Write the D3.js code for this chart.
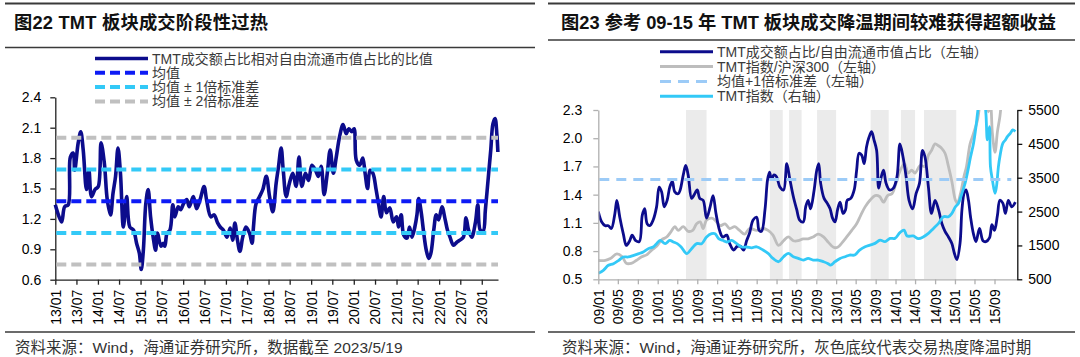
<!DOCTYPE html>
<html><head><meta charset="utf-8">
<script src="https://cdn.jsdelivr.net/npm/d3@7/dist/d3.min.js"></script>
<style>
body{margin:0;background:#fff}
svg text{font-family:"Liberation Sans","Noto Sans CJK SC",sans-serif}
</style>
</head><body>
<svg id="c" width="1080" height="357"></svg>
<script>
// ---------------- LEFT CHART DATA ----------------
const leftTitle = "图22 TMT 板块成交阶段性过热";
const leftSource = "资料来源：Wind，海通证券研究所，数据截至 2023/5/19";
const leftLegend = ["TMT成交额占比相对自由流通市值占比的比值", "均值", "均值 ± 1倍标准差", "均值 ± 2倍标准差"];
const leftTickLabels = ["13/01","13/07","14/01","14/07","15/01","15/07","16/01","16/07","17/01","17/07","18/01","18/07","19/01","19/07","20/01","20/07","21/01","21/07","22/01","22/07","23/01"];
const leftYTicks = [0.6, 0.9, 1.2, 1.5, 1.8, 2.1, 2.4];
const leftMean = 1.375;
const leftSd = 0.313;
const leftDates = [
"2013-01-01","2013-02-24","2013-03-22","2013-04-22","2013-05-10","2013-06-04","2013-06-16","2013-07-16","2013-08-07","2013-08-28",
"2013-09-25","2013-10-16","2013-11-07","2013-12-07","2014-01-04","2014-01-28","2014-02-25","2014-03-22","2014-04-19","2014-05-10",
"2014-06-01","2014-06-22","2014-07-13","2014-08-07","2014-09-04","2014-10-01","2014-11-01","2014-11-28","2014-12-22","2015-01-07",
"2015-01-25","2015-02-15","2015-03-07","2015-03-28","2015-04-19","2015-05-10","2015-05-25","2015-06-25","2015-07-13","2015-07-28",
"2015-08-16","2015-09-10","2015-10-04","2015-10-22","2015-11-19","2015-12-10","2016-01-04","2016-02-01","2016-02-22","2016-03-28",
"2016-04-25","2016-05-25","2016-06-28","2016-07-19","2016-08-25","2016-09-22","2016-10-22","2016-11-13","2016-12-10","2017-01-10",
"2017-02-07","2017-02-28","2017-03-19","2017-04-10","2017-05-01","2017-05-25","2017-06-22","2017-07-22","2017-08-13","2017-08-25",
"2017-09-16","2017-10-16","2017-11-13","2017-12-13","2018-01-10","2018-02-07","2018-03-07","2018-03-28","2018-04-19","2018-05-07",
"2018-06-01","2018-06-28","2018-07-28","2018-08-25","2018-09-19","2018-10-13","2018-11-13","2018-12-10","2019-01-07","2019-02-07",
"2019-03-04","2019-03-28","2019-04-22","2019-05-19","2019-06-13","2019-07-10","2019-08-04","2019-09-01","2019-10-01","2019-10-28",
"2019-11-19","2019-12-16","2020-01-04","2020-01-22","2020-02-19","2020-03-10","2020-03-19","2020-04-07","2020-04-28","2020-05-19",
"2020-06-13","2020-07-10","2020-08-01","2020-08-22","2020-09-13","2020-10-07","2020-11-04","2020-12-04","2021-01-01","2021-01-19",
"2021-02-10","2021-03-04","2021-04-01","2021-04-22","2021-05-13","2021-06-07","2021-06-25","2021-07-10","2021-08-01","2021-08-22",
"2021-09-13","2021-10-04","2021-10-22","2021-11-16","2021-12-07","2021-12-28","2022-01-25","2022-02-22","2022-03-13","2022-04-04",
"2022-05-04","2022-06-01","2022-06-28","2022-07-28","2022-08-19","2022-09-10","2022-10-07","2022-11-07","2022-11-28","2022-12-19",
"2023-01-13","2023-02-01","2023-03-01","2023-03-19","2023-04-07","2023-04-25","2023-05-10","2023-05-19"];
const leftRatio = [
1.34,1.17,1.32,1.34,1.81,1.85,1.68,1.95,2.06,1.88,
1.49,1.68,1.42,1.49,1.52,1.95,1.75,1.39,1.24,1.45,
1.62,1.90,1.65,1.12,1.42,1.12,1.09,0.96,0.86,0.70,
0.89,1.35,1.49,1.22,1.02,0.89,1.06,0.93,0.96,0.93,
1.06,1.09,1.34,1.22,1.32,1.29,1.35,1.39,1.32,1.42,
1.30,1.39,1.52,1.39,1.22,1.24,1.16,1.12,1.09,1.02,
1.11,0.99,1.16,0.99,0.88,1.02,1.12,1.06,0.96,1.12,
1.35,1.42,1.49,1.62,1.42,1.27,1.55,1.72,1.90,1.68,
1.42,1.55,1.65,1.52,1.81,1.52,1.65,1.58,1.73,1.68,
1.62,1.72,1.44,1.65,1.88,1.65,1.81,2.01,2.13,2.04,
2.09,2.06,2.09,1.78,1.73,1.78,1.80,1.65,1.50,1.68,
1.65,1.49,1.34,1.22,1.42,1.26,1.31,1.17,1.22,1.12,
1.24,1.04,1.01,1.12,1.02,1.12,1.24,1.40,1.26,1.06,
0.89,0.81,0.86,1.09,1.24,1.19,1.32,1.19,1.09,1.02,
0.94,0.97,0.99,1.02,1.21,1.09,1.02,1.16,1.34,1.09,
1.08,1.29,1.65,1.88,2.14,2.19,2.04,1.86];

// ---------------- RIGHT CHART DATA ----------------
const rightTitle = "图23 参考 09-15 年 TMT 板块成交降温期间较难获得超额收益";
const rightSource = "资料来源：Wind，海通证券研究所，灰色底纹代表交易热度降温时期";
const rightLegend = ["TMT成交额占比/自由流通市值占比（左轴）", "TMT指数/沪深300（左轴）", "均值+1倍标准差（左轴）", "TMT指数（右轴）"];
const rightTickLabels = ["09/01","09/05","09/09","10/01","10/05","10/09","11/01","11/05","11/09","12/01","12/05","12/09","13/01","13/05","13/09","14/01","14/05","14/09","15/01","15/05","15/09"];
const rightYTicksLeft = [0.5, 0.8, 1.1, 1.4, 1.7, 2.0, 2.3];
const rightYTicksRight = [500, 1500, 2500, 3500, 4500, 5500];
const rightThreshold = 1.56;
const bandStarts = ["2010-06-24","2011-11-21","2012-03-18","2012-09-06","2013-08-01","2014-02-03","2014-06-25"];
const bandEnds   = ["2010-10-28","2012-02-08","2012-06-03","2013-01-01","2013-11-20","2014-05-01","2015-01-09"];
const navyDates = [
"2009-01-01","2009-01-22","2009-02-13","2009-03-04","2009-03-22","2009-04-13","2009-04-25","2009-05-13","2009-06-04","2009-06-22",
"2009-07-13","2009-07-28","2009-08-19","2009-09-10","2009-09-28","2009-10-13","2009-10-28","2009-11-13","2009-12-04","2009-12-25",
"2010-01-10","2010-01-25","2010-02-10","2010-02-28","2010-03-16","2010-04-01","2010-04-16","2010-05-07","2010-05-19","2010-06-07",
"2010-06-22","2010-07-07","2010-07-28","2010-08-10","2010-09-01","2010-09-16","2010-10-07","2010-10-28","2010-11-19","2010-12-07",
"2010-12-25","2011-01-16","2011-02-04","2011-03-01","2011-03-19","2011-04-13","2011-05-04","2011-05-25","2011-06-13","2011-07-01",
"2011-07-19","2011-08-10","2011-09-01","2011-09-16","2011-10-01","2011-10-22","2011-11-07","2011-11-19","2011-12-01","2011-12-16",
"2012-01-01","2012-01-22","2012-02-13","2012-03-04","2012-03-22","2012-04-13","2012-05-04","2012-05-22","2012-06-13","2012-06-28",
"2012-07-13","2012-07-28","2012-08-19","2012-09-04","2012-09-16","2012-09-28","2012-10-19","2012-11-07","2012-11-25","2012-12-10",
"2012-12-25","2013-01-10","2013-01-25","2013-02-13","2013-02-28","2013-03-10","2013-04-01","2013-04-22","2013-05-07","2013-05-22",
"2013-06-07","2013-06-22","2013-07-07","2013-07-22","2013-08-07","2013-08-22","2013-09-07","2013-09-19","2013-10-01","2013-10-19",
"2013-11-04","2013-11-25","2013-12-19","2014-01-10","2014-01-28","2014-02-16","2014-03-07","2014-03-25","2014-04-16","2014-05-07",
"2014-05-28","2014-06-16","2014-07-01","2014-07-22","2014-08-10","2014-09-01","2014-09-22","2014-10-13","2014-11-01","2014-11-22",
"2014-12-13","2014-12-28","2015-01-13","2015-02-01","2015-02-13","2015-02-28","2015-03-10","2015-03-25","2015-04-07","2015-04-25",
"2015-05-10","2015-06-01","2015-06-22","2015-07-10","2015-08-01","2015-08-16","2015-09-01","2015-09-19","2015-10-04","2015-10-22",
"2015-11-07","2015-11-25","2015-12-16","2016-01-07"];
const navyRatio = [
1.22,1.11,1.07,1.07,1.04,1.20,1.34,1.16,0.98,0.86,
0.91,0.97,0.91,0.90,1.18,1.25,1.09,1.07,1.13,1.27,
1.48,1.43,1.27,1.34,1.48,1.54,1.43,1.41,1.45,1.61,
1.71,1.61,1.36,1.39,1.45,1.36,1.34,1.15,1.27,1.39,
1.20,1.02,0.95,0.97,0.88,0.81,0.85,0.85,0.81,0.91,
0.99,1.13,1.16,1.02,1.01,1.24,1.56,1.64,1.56,1.61,
1.59,1.48,1.45,1.73,1.57,1.38,1.24,1.13,1.11,1.27,
1.34,1.25,1.45,1.66,1.73,1.52,1.36,1.31,1.25,1.15,
1.11,1.24,1.32,1.20,1.24,1.34,1.36,1.45,1.66,1.84,
1.82,1.73,1.91,2.01,2.07,1.98,1.87,1.47,1.56,1.66,
1.52,1.45,1.47,1.59,1.94,1.80,1.59,1.34,1.25,1.41,
1.52,1.87,1.80,1.48,1.20,1.34,1.24,1.09,1.01,0.95,
0.88,0.78,0.71,0.88,1.24,1.43,1.45,1.34,1.16,0.98,
0.90,1.04,0.91,0.90,0.94,1.08,1.02,1.18,1.34,1.31,
1.20,1.34,1.27,1.32];
const grayDates = [
"2009-01-01","2009-02-13","2009-03-16","2009-04-25","2009-05-28","2009-06-22","2009-07-22","2009-08-22","2009-09-25","2009-10-25",
"2009-11-25","2009-12-25","2010-01-25","2010-02-25","2010-03-25","2010-04-16","2010-05-07","2010-06-07","2010-07-07","2010-08-04",
"2010-08-28","2010-09-19","2010-10-07","2010-10-28","2010-11-28","2010-12-19","2011-01-19","2011-02-19","2011-03-19","2011-04-19",
"2011-05-19","2011-06-19","2011-07-19","2011-09-01","2011-10-10","2011-11-10","2011-12-10","2012-01-13","2012-02-13","2012-03-13",
"2012-04-13","2012-05-13","2012-06-13","2012-07-13","2012-08-13","2012-09-13","2012-10-16","2012-11-16","2012-12-16","2013-01-10",
"2013-02-07","2013-03-07","2013-04-07","2013-05-07","2013-06-01","2013-06-28","2013-07-28","2013-08-28","2013-09-25","2013-10-19",
"2013-11-13","2013-12-10","2014-01-04","2014-01-28","2014-02-25","2014-03-19","2014-04-10","2014-05-01","2014-06-01","2014-07-01",
"2014-07-22","2014-08-10","2014-09-01","2014-09-22","2014-10-13","2014-11-01","2014-11-22","2014-12-13","2015-01-04","2015-01-16",
"2015-02-04","2015-02-25","2015-03-13","2015-04-04","2015-04-25","2015-05-19","2015-06-13","2015-07-10","2015-07-25","2015-08-07",
"2015-08-19","2015-09-04","2015-09-19","2015-10-04","2015-10-16","2015-11-07","2015-12-01","2016-01-07"];
const grayRatio = [
0.70,0.70,0.72,0.77,0.74,0.67,0.67,0.70,0.74,0.76,
0.81,0.85,0.92,0.95,1.01,1.06,1.02,1.06,1.01,1.02,
1.09,1.11,1.04,1.13,1.15,1.13,1.07,1.09,1.04,1.06,
1.02,0.98,1.04,1.02,1.04,1.02,0.97,0.86,0.91,0.95,
0.91,0.91,0.93,0.93,0.95,0.98,0.95,0.89,0.84,0.84,
0.89,0.95,1.02,1.09,1.18,1.27,1.34,1.39,1.38,1.32,
1.39,1.41,1.52,1.65,1.73,1.63,1.66,1.63,1.71,1.70,
1.82,1.87,1.94,1.92,1.89,1.84,1.70,1.54,1.34,1.31,
1.41,1.59,1.70,1.94,2.05,2.19,2.45,2.55,2.28,2.35,
2.05,1.85,2.07,2.23,2.40,2.55,2.65,2.70];
const cyanDates = [
"2009-01-01","2009-02-01","2009-03-04","2009-04-04","2009-05-07","2009-06-04","2009-07-04","2009-08-07","2009-09-07","2009-10-04",
"2009-11-04","2009-12-04","2009-12-25","2010-01-16","2010-02-16","2010-03-16","2010-04-07","2010-05-01","2010-05-25","2010-06-28",
"2010-07-28","2010-08-28","2010-09-28","2010-10-28","2010-11-28","2010-12-19","2011-01-10","2011-02-04","2011-03-01","2011-04-01",
"2011-05-01","2011-06-01","2011-07-01","2011-08-01","2011-09-01","2011-10-10","2011-11-10","2011-12-10","2012-01-13","2012-02-13",
"2012-03-13","2012-04-13","2012-05-13","2012-06-13","2012-07-13","2012-08-13","2012-09-13","2012-10-16","2012-11-10","2012-11-28",
"2012-12-25","2013-01-25","2013-02-25","2013-03-25","2013-04-25","2013-05-25","2013-06-28","2013-07-28","2013-08-28","2013-09-28",
"2013-10-28","2013-11-28","2013-12-28","2014-01-28","2014-02-22","2014-03-13","2014-04-19","2014-05-22","2014-06-22","2014-07-22",
"2014-08-22","2014-09-22","2014-10-22","2014-11-22","2014-12-13","2015-01-04","2015-01-22","2015-02-13","2015-03-04","2015-03-22",
"2015-04-07","2015-04-25","2015-05-10","2015-05-25","2015-06-07","2015-06-25","2015-07-10","2015-07-19","2015-08-01","2015-08-07",
"2015-08-19","2015-09-04","2015-09-13","2015-09-25","2015-10-04","2015-10-22","2015-11-07","2015-11-19","2015-12-07","2015-12-22",
"2016-01-07"];
const cyanIndex = [
677,766,913,962,1061,1159,1159,1208,1257,1307,
1405,1454,1553,1651,1553,1651,1602,1553,1454,1257,
1405,1553,1553,1750,1848,1848,1701,1651,1602,1651,
1553,1454,1454,1430,1460,1364,1265,1117,1019,1167,
1265,1167,1117,1068,1117,1068,1068,1019,970,921,
1019,1117,1167,1216,1216,1364,1462,1511,1561,1659,
1610,1708,1708,1880,1954,1780,1780,1700,1757,1856,
2003,2151,2348,2348,2446,2643,2741,3036,3331,3725,
4118,4512,5004,5600,5900,6000,5402,4616,5008,3828,
3434,3040,3237,3828,4123,4517,4616,4714,4812,4911,
4862];

// ---------------- DRAWING ----------------
const parseDate = d3.timeParse("%Y-%m-%d");
const parseTick = d3.timeParse("%y/%m");
const fmtTick = d3.timeFormat("%y/%m");
const svg = d3.select("#c");

const C = {
  navy: "#0c0c8c", blue: "#0d1bf5", cyan: "#33c9f7", gray: "#c0c0c0",
  rgray: "#bdbdbd", rdash: "#9ccbf7", band: "#ebebeb", rule: "#3a3a3a", text: "#3a3a3a"
};

function styleAxis(g, color) {
  g.select(".domain").attr("stroke", color).attr("stroke-width", 1.3);
  g.selectAll(".tick line").attr("stroke", color).attr("stroke-width", 1.3);
  g.selectAll(".tick text").attr("fill", "#000").style("font-size", "14px")
    .style("font-family", "'Liberation Sans', Arial, sans-serif");
}

function header(x0, x1, titleLineY, title, titleX, titleW, source) {
  svg.append("line").attr("x1", x0).attr("x2", x1).attr("y1", 3.5).attr("y2", 3.5)
    .attr("stroke", C.rule).attr("stroke-width", 2);
  svg.append("text").attr("x", titleX).attr("y", 29).text(title)
    .attr("textLength", titleW).attr("lengthAdjust", "spacing")
    .style("font-size", "18.3px").style("font-weight", "bold").attr("fill", "#111");
  svg.append("line").attr("x1", x0).attr("x2", x1).attr("y1", titleLineY).attr("y2", titleLineY)
    .attr("stroke", C.rule).attr("stroke-width", 1.5);
  svg.append("line").attr("x1", x0).attr("x2", x1).attr("y1", 332).attr("y2", 332)
    .attr("stroke", C.rule).attr("stroke-width", 1.5);
  svg.append("text").attr("x", titleX + 1).attr("y", 352.5).text(source)
    .style("font-size", "15.5px").attr("fill", "#333");
}

function legend(items, sx0, sx1, tx, ys) {
  items.forEach((it, i) => {
    svg.append("line").attr("x1", sx0).attr("x2", sx1).attr("y1", ys[i]).attr("y2", ys[i])
      .attr("stroke", it.color).attr("stroke-width", it.width)
      .attr("stroke-dasharray", it.dash || null);
    svg.append("text").attr("x", tx).attr("y", ys[i]).attr("dy", "0.36em").text(it.label)
      .style("font-size", "14px").attr("fill", C.text);
  });
}

// ===== LEFT =====
header(5, 535, 47.5, leftTitle, 14, 254, leftSource);

const xL = d3.scaleTime().domain([parseDate("2013-01-01"), parseDate("2023-05-20")]).range([55.3, 498]);
const yL = d3.scaleLinear().domain([0.6, 2.4]).range([279.7, 97.3]);

const gxL = svg.append("g").attr("transform", `translate(0,${yL(0.6)})`)
  .call(d3.axisBottom(xL).tickValues(leftTickLabels.map(parseTick)).tickFormat(fmtTick).tickSize(5).tickSizeOuter(0));
gxL.selectAll(".tick text").attr("transform", "rotate(-90)").attr("text-anchor", "end")
  .attr("x", -10).attr("y", 0).attr("dy", "0.35em");
styleAxis(gxL, "#222");

const gyL = svg.append("g").attr("transform", `translate(${xL.range()[0]},0)`)
  .call(d3.axisLeft(yL).tickValues(leftYTicks).tickFormat(d3.format(".1f")).tickSize(5).tickPadding(9).tickSizeOuter(0));
styleAxis(gyL, "#222");

const leftData = d3.zip(leftDates.map(parseDate), leftRatio);
svg.append("path").datum(leftData)
  .attr("d", d3.line().x(d => xL(d[0])).y(d => yL(d[1])).curve(d3.curveCatmullRom.alpha(0.5)))
  .attr("fill", "none").attr("stroke", C.navy).attr("stroke-width", 3.6).attr("stroke-linejoin", "round");

const bandLines = [
  { v: leftMean + 2 * leftSd, c: C.gray },
  { v: leftMean + leftSd, c: C.cyan },
  { v: leftMean, c: C.blue },
  { v: leftMean - leftSd, c: C.cyan },
  { v: leftMean - 2 * leftSd, c: C.gray }
];
svg.selectAll(".hl").data(bandLines).enter().append("line")
  .attr("x1", xL.range()[0] + 1).attr("x2", xL.range()[1])
  .attr("y1", d => yL(d.v)).attr("y2", d => yL(d.v))
  .attr("stroke", d => d.c).attr("stroke-width", 4).attr("stroke-dasharray", "10,5");

legend([
  { label: leftLegend[0], color: C.navy, width: 3.6 },
  { label: leftLegend[1], color: C.blue, width: 4, dash: "10,5" },
  { label: leftLegend[2], color: C.cyan, width: 4, dash: "10,5" },
  { label: leftLegend[3], color: C.gray, width: 4, dash: "10,5" }
], 95, 148, 152, [58.5, 72.8, 87.1, 101.4]);

// ===== RIGHT =====
header(548, 1075, 40, rightTitle, 561, 495, rightSource);

const xR = d3.scaleTime().domain([parseDate("2009-01-01"), parseDate("2016-01-19")]).range([598.3, 1017.3]);
const yRL = d3.scaleLinear().domain([0.5, 2.3]).range([279.3, 110]);
const yRR = d3.scaleLinear().domain([500, 5500]).range([279.3, 110]);

svg.append("clipPath").attr("id", "clipR").append("rect")
  .attr("x", xR.range()[0]).attr("y", yRL.range()[1])
  .attr("width", xR.range()[1] - xR.range()[0]).attr("height", yRL.range()[0] - yRL.range()[1]);

const plotR = svg.append("g").attr("clip-path", "url(#clipR)");
const bands = d3.zip(bandStarts.map(parseDate), bandEnds.map(parseDate));
plotR.selectAll(".band").data(bands).enter().append("rect")
  .attr("x", d => xR(d[0])).attr("width", d => xR(d[1]) - xR(d[0]))
  .attr("y", yRL.range()[1]).attr("height", yRL.range()[0] - yRL.range()[1])
  .attr("fill", C.band);

const lineL = d3.line().x(d => xR(d[0])).y(d => yRL(d[1])).curve(d3.curveCatmullRom.alpha(0.5));
const lineR = d3.line().x(d => xR(d[0])).y(d => yRR(d[1])).curve(d3.curveCatmullRom.alpha(0.5));

plotR.append("path").datum(d3.zip(grayDates.map(parseDate), grayRatio)).attr("d", lineL)
  .attr("fill", "none").attr("stroke", C.rgray).attr("stroke-width", 2.8).attr("stroke-linejoin", "round");
plotR.append("path").datum(d3.zip(navyDates.map(parseDate), navyRatio)).attr("d", lineL)
  .attr("fill", "none").attr("stroke", C.navy).attr("stroke-width", 2.8).attr("stroke-linejoin", "round");
plotR.append("path").datum(d3.zip(cyanDates.map(parseDate), cyanIndex)).attr("d", lineR)
  .attr("fill", "none").attr("stroke", C.cyan).attr("stroke-width", 2.8).attr("stroke-linejoin", "round");
plotR.append("line").attr("x1", xR.range()[0] + 1).attr("x2", xR.range()[1] - 6)
  .attr("y1", yRL(rightThreshold)).attr("y2", yRL(rightThreshold))
  .attr("stroke", C.rdash).attr("stroke-width", 3).attr("stroke-dasharray", "10,7");

const gxR = svg.append("g").attr("transform", `translate(0,${yRL(0.5)})`)
  .call(d3.axisBottom(xR).tickValues(rightTickLabels.map(parseTick)).tickFormat(fmtTick).tickSize(5).tickSizeOuter(0));
gxR.selectAll(".tick text").attr("transform", "rotate(-90)").attr("text-anchor", "end")
  .attr("x", -10).attr("y", 0).attr("dy", "0.35em");
styleAxis(gxR, "#b0b0b0");

const gyRL = svg.append("g").attr("transform", `translate(${xR.range()[0]},0)`)
  .call(d3.axisLeft(yRL).tickValues(rightYTicksLeft).tickFormat(d3.format(".1f")).tickSize(5).tickPadding(11).tickSizeOuter(0));
styleAxis(gyRL, "#b0b0b0");

const gyRR = svg.append("g").attr("transform", `translate(${xR.range()[1]},0)`)
  .call(d3.axisRight(yRR).tickValues(rightYTicksRight).tickFormat(d3.format("d")).tickSize(5).tickPadding(6).tickSizeOuter(0));
styleAxis(gyRR, "#111");

legend([
  { label: rightLegend[0], color: C.navy, width: 3 },
  { label: rightLegend[1], color: C.rgray, width: 3 },
  { label: rightLegend[2], color: C.rdash, width: 3, dash: "11,7" },
  { label: rightLegend[3], color: C.cyan, width: 3 }
], 660, 713, 717, [51.8, 66.6, 81.4, 96.2]);
</script>
</body></html>
